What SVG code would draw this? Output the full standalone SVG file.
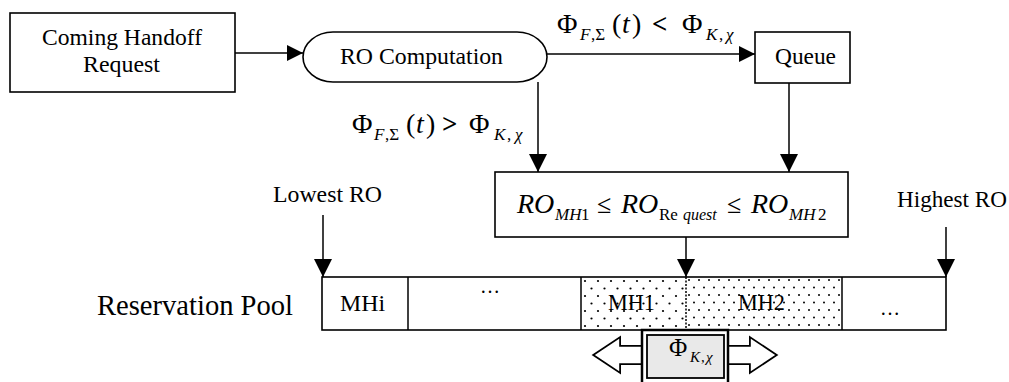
<svg xmlns="http://www.w3.org/2000/svg" width="1009" height="382" viewBox="0 0 1009 382">
<defs>
<style>
.box{fill:#fff;stroke:#000;stroke-width:1.6}
.ln{fill:none;stroke:#000;stroke-width:1.5}
.t{font-family:"Liberation Serif","Times New Roman",serif;fill:#000}
.it{font-style:italic}
.sub{font-size:17px}
.big{font-size:28px}
</style>
<marker id="ah" viewBox="0 0 16 16" refX="16" refY="8" markerWidth="16" markerHeight="16" markerUnits="userSpaceOnUse" orient="auto">
<path d="M0,0 L16,8 L0,16 Z" fill="#000"/>
</marker>
<marker id="ahv" viewBox="0 0 18 18" refX="18" refY="9" markerWidth="18" markerHeight="18" markerUnits="userSpaceOnUse" orient="auto">
<path d="M0,0 L18,9 L0,18 Z" fill="#000"/>
</marker>
<pattern id="sparse" x="581" y="277" width="13" height="15" patternUnits="userSpaceOnUse">
<circle cx="4" cy="4" r="1.1" fill="#000"/>
<circle cx="10.5" cy="11.5" r="1.1" fill="#000"/>
</pattern>
<pattern id="dense" x="686" y="277" width="10" height="15" patternUnits="userSpaceOnUse">
<circle cx="3" cy="3" r="1" fill="#000"/>
<circle cx="8" cy="10.5" r="1" fill="#000"/>
</pattern>
</defs>

<g id="connectors">
<line class="ln" x1="235" y1="53" x2="303" y2="53" marker-end="url(#ah)"/>
<line class="ln" x1="547" y1="54" x2="755" y2="54" marker-end="url(#ah)"/>
<line class="ln" x1="538" y1="82" x2="538" y2="172" marker-end="url(#ahv)"/>
<line class="ln" x1="789" y1="83" x2="789" y2="172" marker-end="url(#ahv)"/>
<line class="ln" x1="686" y1="237" x2="686" y2="277" marker-end="url(#ahv)"/>
<line class="ln" x1="323" y1="215" x2="323" y2="277" marker-end="url(#ahv)"/>
<line class="ln" x1="946" y1="227" x2="946" y2="277" marker-end="url(#ahv)"/>
<text class="t big" y="33"><tspan x="557">Φ</tspan><tspan class="it sub" x="580" y="40">F</tspan><tspan class="sub" x="591" y="40">,Σ</tspan><tspan x="612" y="33">(</tspan><tspan class="it" x="622" y="33">t</tspan><tspan x="632" y="33">)</tspan><tspan x="652" y="33" font-size="27" font-weight="bold">&lt;</tspan><tspan x="682" y="33">Φ</tspan><tspan class="it sub" x="706" y="40">K</tspan><tspan class="sub" x="719" y="40">,</tspan><tspan class="it sub" x="726" y="40">χ</tspan></text>
<text class="t big" y="133"><tspan x="352">Φ</tspan><tspan class="it sub" x="374" y="140">F</tspan><tspan class="sub" x="385" y="140">,Σ</tspan><tspan x="406" y="133">(</tspan><tspan class="it" x="416" y="133">t</tspan><tspan x="426" y="133">)</tspan><tspan x="442" y="133" font-size="27" font-weight="bold">&gt;</tspan><tspan x="469" y="133">Φ</tspan><tspan class="it sub" x="494" y="140">K</tspan><tspan class="sub" x="507" y="140">,</tspan><tspan class="it sub" x="515" y="140">χ</tspan></text>
</g>

<g id="handoff">
<rect class="box" x="10" y="13" width="225" height="79"/>
<text class="t" x="42" y="45" font-size="23" textLength="160" lengthAdjust="spacingAndGlyphs">Coming Handoff</text>
<text class="t" x="83" y="72" font-size="23" textLength="77" lengthAdjust="spacingAndGlyphs">Request</text>
</g>

<g id="ro-computation">
<rect class="box" x="303" y="32" width="244" height="50" rx="30" ry="25"/>
<text class="t" x="340" y="64" font-size="23" textLength="163" lengthAdjust="spacingAndGlyphs">RO Computation</text>
</g>

<g id="queue">
<rect class="box" x="755" y="32" width="95" height="51"/>
<text class="t" x="775" y="64" font-size="23" textLength="61" lengthAdjust="spacingAndGlyphs">Queue</text>
</g>

<g id="ro-range">
<rect class="box" x="495" y="172" width="353" height="65"/>
<text class="t" y="213" font-size="28"><tspan class="it" x="517">RO</tspan><tspan class="it sub" x="555" y="220">MH</tspan><tspan class="sub" x="581" y="220">1</tspan><tspan x="597" y="213" font-size="26">≤</tspan><tspan class="it" x="621" y="213">RO</tspan><tspan class="sub" x="659" y="220">Re</tspan><tspan class="it" x="683" y="220" font-size="16">quest</tspan><tspan x="727" y="213" font-size="26">≤</tspan><tspan class="it" x="751" y="213">RO</tspan><tspan class="it sub" x="789" y="220">MH</tspan><tspan class="sub" x="818" y="220">2</tspan></text>
</g>

<g id="lowest-ro">
<text class="t" x="273" y="202" font-size="23" textLength="109" lengthAdjust="spacingAndGlyphs">Lowest RO</text>
</g>

<g id="highest-ro">
<text class="t" x="897" y="207" font-size="23" textLength="110" lengthAdjust="spacingAndGlyphs">Highest RO</text>
</g>

<g id="reservation-pool">
<text class="t" x="97" y="315" font-size="30" textLength="196" lengthAdjust="spacingAndGlyphs">Reservation Pool</text>
<rect x="581" y="277" width="105" height="53" fill="url(#sparse)"/>
<rect x="686" y="277" width="156" height="53" fill="url(#dense)"/>
<rect x="322" y="277" width="624" height="53" fill="none" stroke="#000" stroke-width="1.6"/>
<line class="ln" x1="408" y1="277" x2="408" y2="330"/>
<line class="ln" x1="581" y1="277" x2="581" y2="330"/>
<line x1="686" y1="277" x2="686" y2="330" stroke="#000" stroke-width="1.5" stroke-dasharray="2 1.5"/>
<line class="ln" x1="842" y1="277" x2="842" y2="330"/>
<text class="t" x="340" y="311" font-size="23" textLength="45" lengthAdjust="spacingAndGlyphs">MHi</text>
<text class="t" x="490" y="293" font-size="20" text-anchor="middle">…</text>
<text class="t" x="608" y="310" font-size="23" textLength="47" lengthAdjust="spacingAndGlyphs">MH1</text>
<text class="t" x="738" y="310" font-size="23" textLength="47" lengthAdjust="spacingAndGlyphs">MH2</text>
<text class="t" x="890" y="315" font-size="20" text-anchor="middle">…</text>
</g>

<g id="phi-kx">
<path d="M597,355 L618,341 L618,348 L642,348 L642,362 L618,362 L618,369 Z M773,355 L752,341 L752,348 L728,348 L728,362 L752,362 L752,369 Z" fill="#fff" stroke="#000" stroke-width="6" stroke-linejoin="miter"/>
<path d="M597,355 L618,341 L618,348 L642,348 L642,362 L618,362 L618,369 Z M773,355 L752,341 L752,348 L728,348 L728,362 L752,362 L752,369 Z" fill="#fff" stroke="#fff" stroke-width="2.4" stroke-linejoin="miter"/>
<rect x="642" y="330" width="86" height="56" fill="#fff" stroke="#000" stroke-width="2.5"/>
<rect x="647" y="335" width="77" height="43" fill="#e9e9e9" stroke="#000" stroke-width="1.8"/>
<text class="t" y="356" font-size="25"><tspan x="669">Φ</tspan><tspan class="it" x="690" y="362" font-size="15">K</tspan><tspan x="701" y="362" font-size="15">,</tspan><tspan class="it" x="706" y="362" font-size="15">χ</tspan></text>
</g>
</svg>
